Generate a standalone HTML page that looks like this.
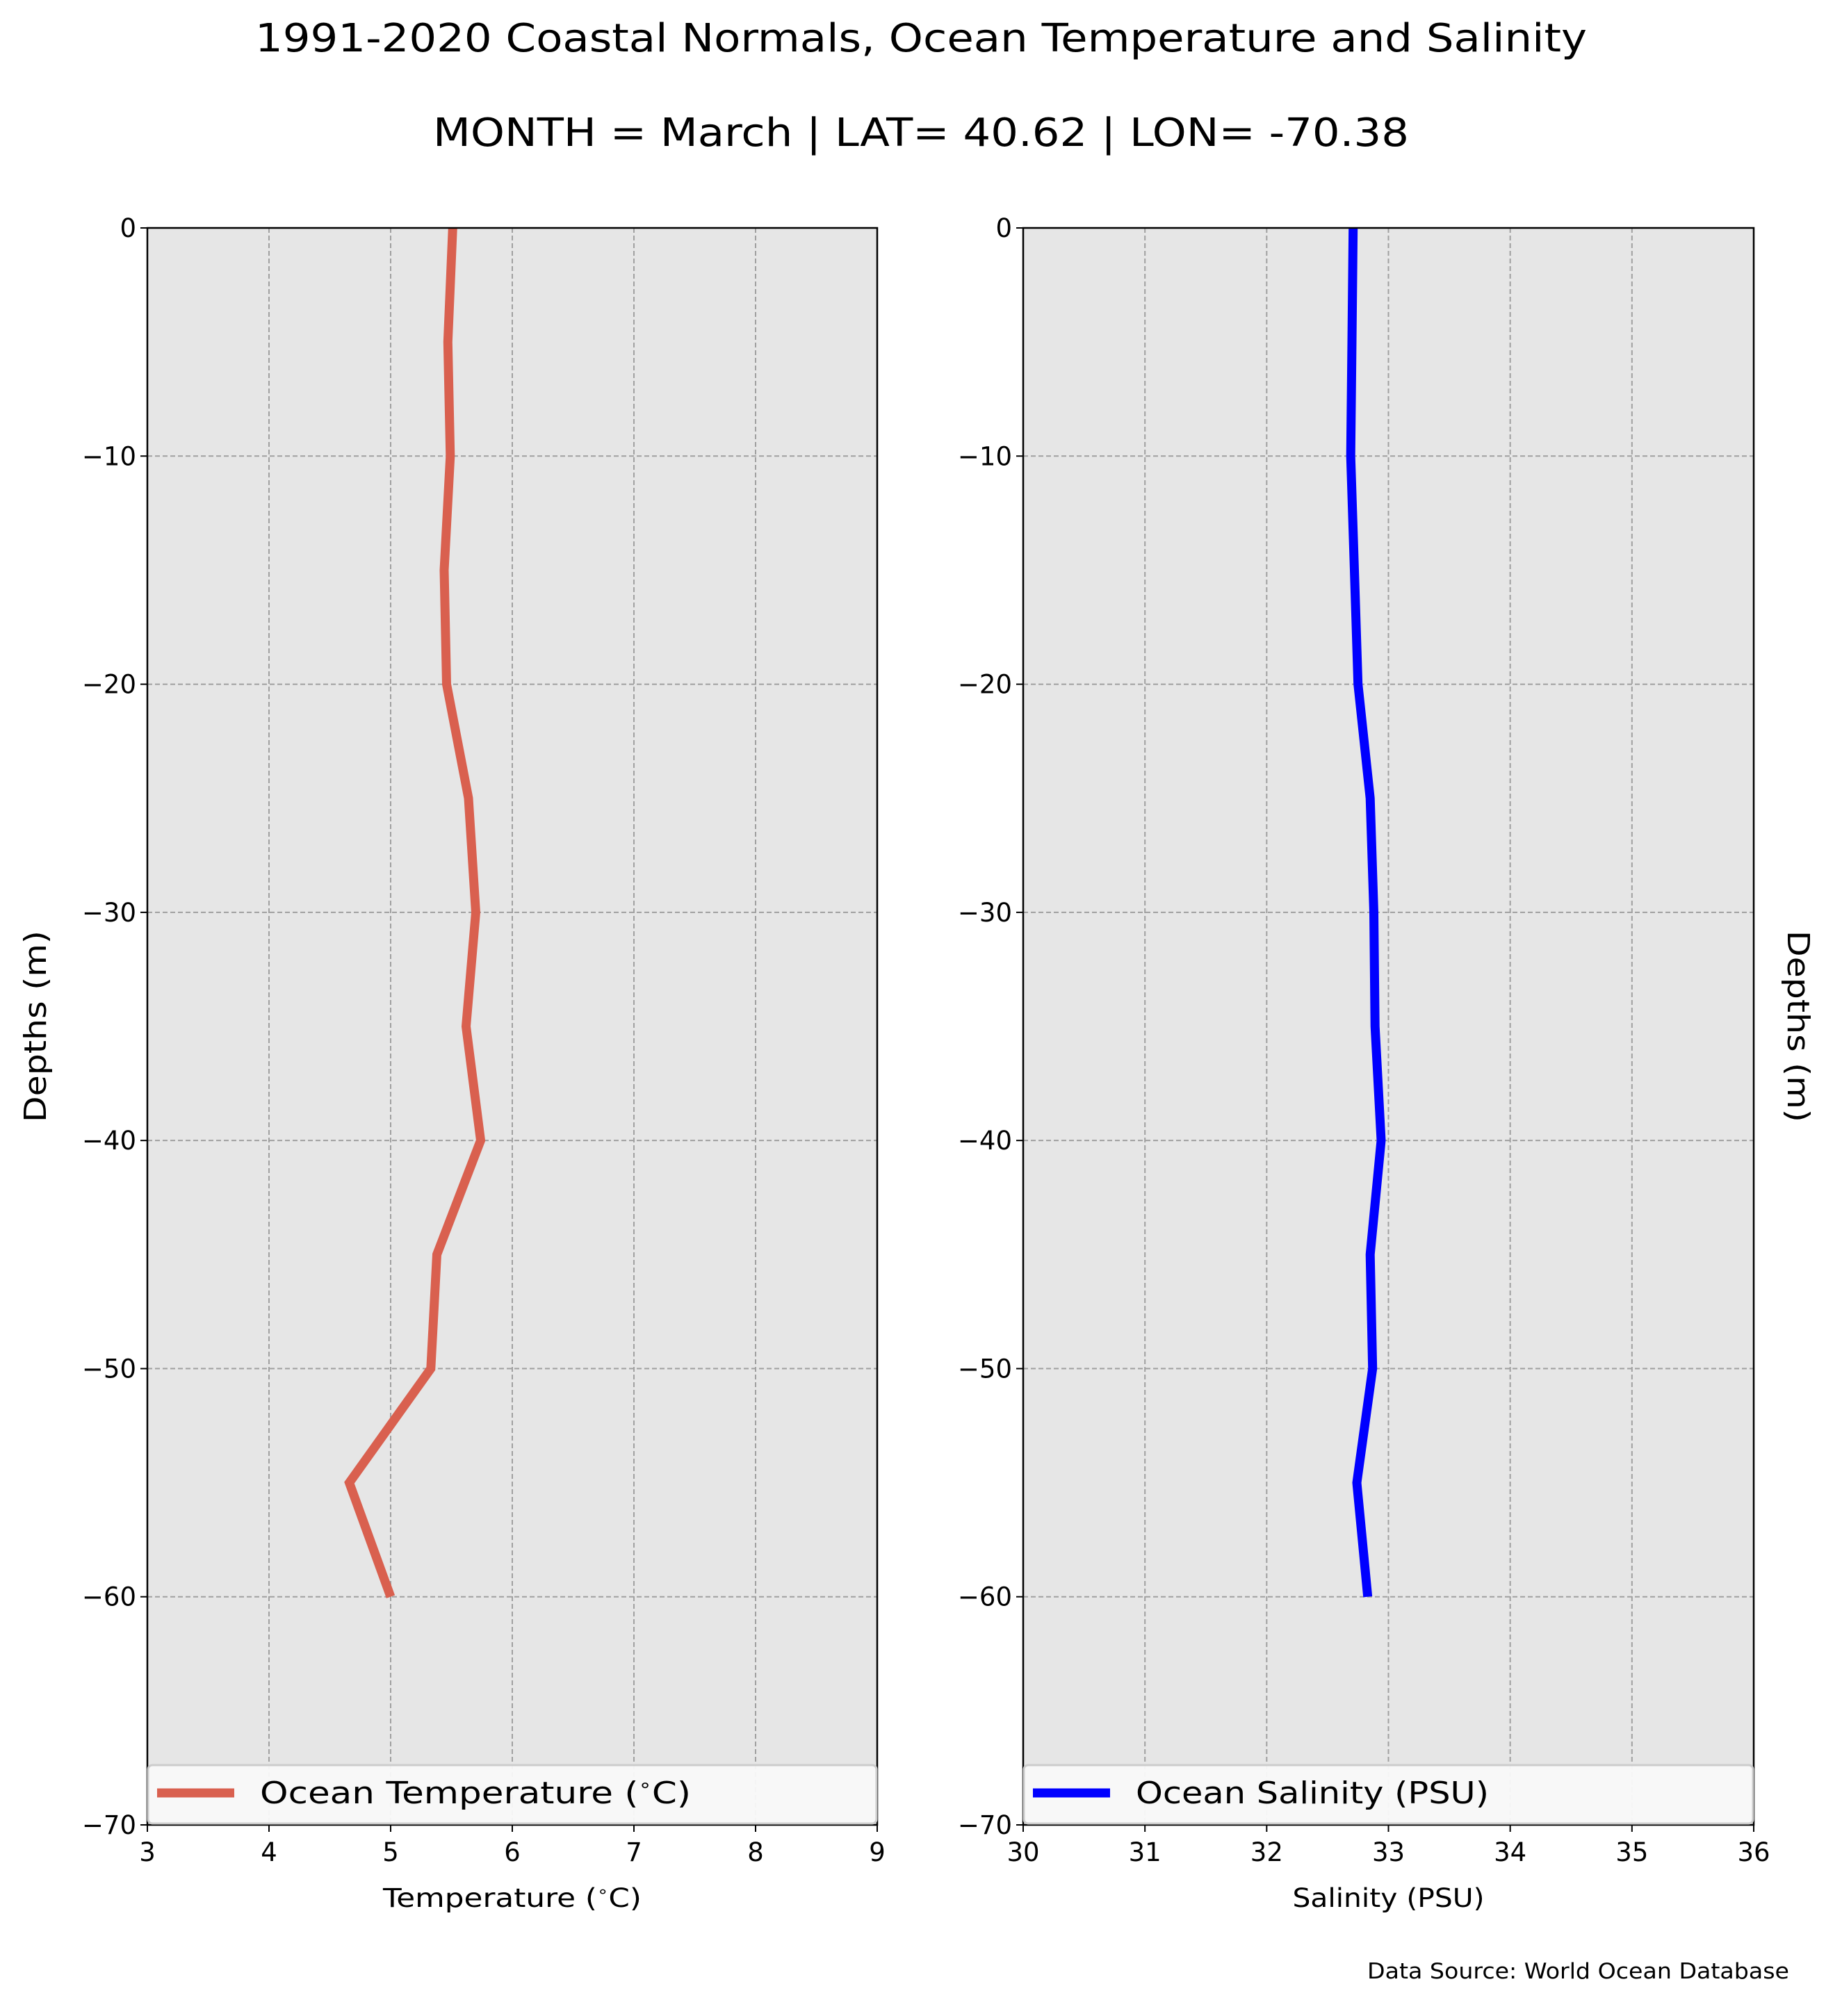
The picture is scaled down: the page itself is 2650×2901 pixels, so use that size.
<!DOCTYPE html>
<html><head><meta charset="utf-8"><style>
html,body{margin:0;padding:0;background:#fff}
svg{display:block;font-family:"DejaVu Sans","Liberation Sans",sans-serif}
</style></head><body>
<svg id="fig" width="2650" height="2901" viewBox="0 0 2650 2901" xmlns="http://www.w3.org/2000/svg">
<rect width="2650" height="2901" fill="#fff"/>
<text x="1325" y="74" text-anchor="middle" font-size="56" textLength="1916" lengthAdjust="spacingAndGlyphs">1991-2020 Coastal Normals, Ocean Temperature and Salinity</text>
<text x="1325" y="210" text-anchor="middle" font-size="56" textLength="1404" lengthAdjust="spacingAndGlyphs">MONTH = March | LAT= 40.62 | LON= -70.38</text>
<text transform="translate(66,1477) rotate(-90)" text-anchor="middle" font-size="44" textLength="276" lengthAdjust="spacingAndGlyphs">Depths (m)</text>
<text transform="translate(2572,1477) rotate(90)" text-anchor="middle" font-size="44" textLength="276" lengthAdjust="spacingAndGlyphs">Depths (m)</text>
<text x="2574" y="2847" text-anchor="end" font-size="31" textLength="607" lengthAdjust="spacingAndGlyphs">Data Source: World Ocean Database</text>
<g id="panels"></g>
</svg>
<script>
const depths = [0,-5,-10,-15,-20,-25,-30,-35,-40,-45,-50,-55,-60];
const temperature = [5.51,5.47,5.49,5.44,5.46,5.64,5.70,5.62,5.74,5.38,5.33,4.66,5.0];
const salinity = [32.71,32.70,32.69,32.72,32.75,32.85,32.88,32.89,32.94,32.85,32.87,32.74,32.83];
const tempTicks = [3,4,5,6,7,8,9];
const salTicks = [30,31,32,33,34,35,36];
const depthTicks = [0,-10,-20,-30,-40,-50,-60,-70];

const NS = 'http://www.w3.org/2000/svg';
const root = document.getElementById('panels');
function mk(tag, attrs, parent){const e=document.createElementNS(NS,tag);for(const k in attrs)e.setAttribute(k,attrs[k]);(parent||root).appendChild(e);return e;}
function labelWithDegree(el, pre, post, fs){
  const a=mk('tspan',{},el); a.textContent=pre;
  const b=mk('tspan',{'font-size':fs*0.6,dy:-fs*0.4},el); b.textContent='\u2218';
  const c=mk('tspan',{dy:fs*0.4},el); c.textContent=post;
}

function panel(cfg){
  const {x0,x1,y0,y1,xmin,xmax,ticks,vals,color,prefix,legW,xlW} = cfg;
  const g = mk('g',{});
  
  
  const sx = v => x0 + (v-xmin)/(xmax-xmin)*(x1-x0);
  const sy = d => y0 + (0-d)/70*(y1-y0);
  const bg = mk('rect',{x:x0,y:y0,width:x1-x0,height:y1-y0,fill:'#e6e6e6'},g);
  
  
  ticks.forEach(t=>{
    const x=sx(t);
    if(t!==xmin && t!==xmax){
      const gl=mk('line',{x1:x,x2:x,y1:y0,y2:y1,stroke:'#a0a0a0','stroke-width':2,'stroke-dasharray':'7,4'},g);
      
      
    }
    mk('line',{x1:x,x2:x,y1:y1,y2:y1+10,stroke:'#000','stroke-width':2},g);
    const tl=mk('text',{x:x,y:y1+52,'text-anchor':'middle','font-size':37},g);
    tl.textContent=t;
    
    
  });
  depthTicks.forEach(d=>{
    const y=sy(d);
    if(d!==0 && d!==-70){
      const gl=mk('line',{x1:x0,x2:x1,y1:y,y2:y,stroke:'#a0a0a0','stroke-width':2,'stroke-dasharray':'7,4'},g);
      
      
    }
    mk('line',{x1:x0-10,x2:x0,y1:y,y2:y,stroke:'#000','stroke-width':2},g);
    const tl=mk('text',{x:x0-16,y:y+13,'text-anchor':'end','font-size':37},g);
    tl.textContent = d<0 ? '\u2212'+(-d) : String(d);
    
    
  });
  const pts = depths.map((d,i)=>sx(vals[i]).toFixed(1)+','+sy(d).toFixed(1)).join(' ');
  const ln = mk('polyline',{points:pts,fill:'none',stroke:color,'stroke-width':13,'stroke-linejoin':'miter'},g);
  
  
  const fr = mk('rect',{x:x0,y:y0,width:x1-x0,height:y1-y0,fill:'none',stroke:'#000','stroke-width':2.5},g);
  
  
  const xl = mk('text',{x:(x0+x1)/2,y:y1+118,'text-anchor':'middle','font-size':37,textLength:xlW,lengthAdjust:'spacingAndGlyphs'},g);
  if(prefix==='temperature') labelWithDegree(xl,'Temperature (',  'C)',37); else xl.textContent='Salinity (PSU)';
  
  
  const lg = mk('g',{},g);
  
  
  mk('rect',{x:x0+1,y:y1-86,width:x1-x0-2,height:84,rx:6,fill:'#f9f9f9','fill-opacity':0.95,stroke:'#cccccc','stroke-width':3},lg);
  mk('line',{x1:x0+14,x2:x0+125,y1:y1-46,y2:y1-46,stroke:color,'stroke-width':13},lg);
  const lt = mk('text',{x:x0+162,y:y1-31,'font-size':44,textLength:legW,lengthAdjust:'spacingAndGlyphs'},lg);
  if(prefix==='temperature') labelWithDegree(lt,'Ocean Temperature (','C)',44); else lt.textContent='Ocean Salinity (PSU)';
  
  
}
panel({x0:212,x1:1262,y0:328,y1:2626,xmin:3,xmax:9,ticks:tempTicks,vals:temperature,color:'#d9604f',prefix:'temperature',legW:620,xlW:372});
panel({x0:1472,x1:2523,y0:328,y1:2626,xmin:30,xmax:36,ticks:salTicks,vals:salinity,color:'#0000ff',prefix:'salinity',legW:508,xlW:276});
</script>
</body></html>
